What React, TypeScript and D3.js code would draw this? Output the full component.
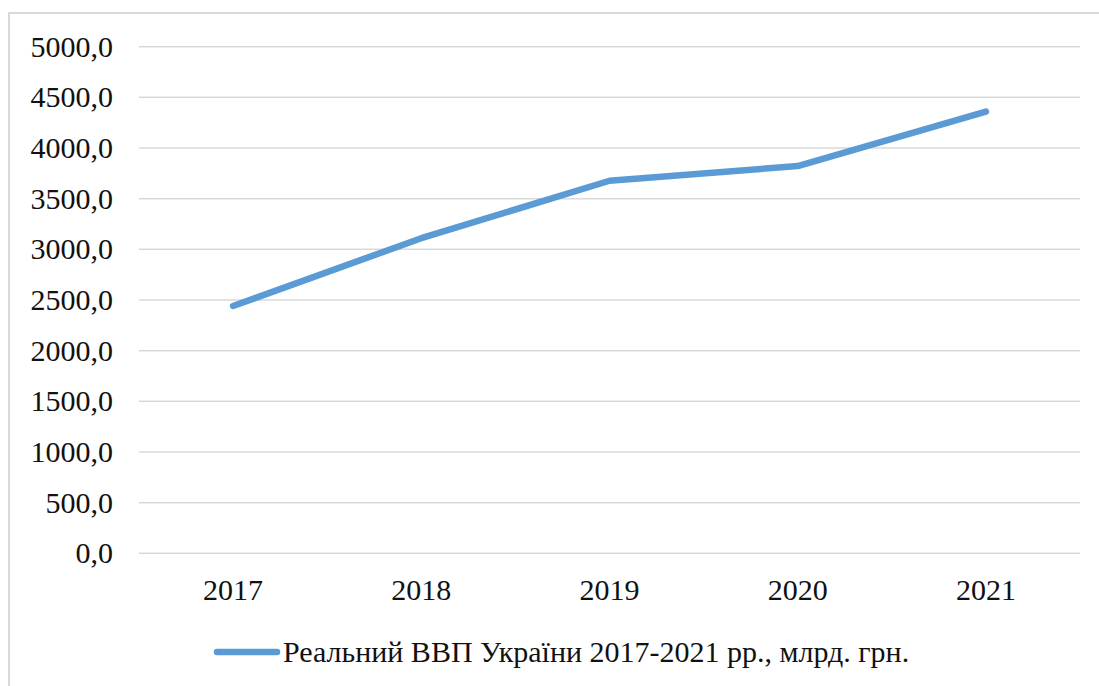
import React from "react";
import * as d3 from "d3";

const categories = ["2017", "2018", "2019", "2020", "2021"];
const values = [2441, 3110, 3677, 3822, 4360];
const yTicks = [0, 500, 1000, 1500, 2000, 2500, 3000, 3500, 4000, 4500, 5000];
const legendLabel = "Реальний ВВП України 2017-2021 рр., млрд. грн.";

const W = 1099;
const H = 686;
const plot = { left: 139, right: 1080, top: 46.7, bottom: 553.3 };
const font = "'Liberation Serif', 'Times New Roman', serif";

export default function App() {
  const x = d3.scaleBand<string>().domain(categories).range([plot.left, plot.right]);
  const y = d3.scaleLinear().domain([0, 5000]).range([plot.bottom, plot.top]);
  const fmt = (v: number) => v.toFixed(1).replace(".", ",");
  const line = d3
    .line<number>()
    .x((_, i) => (x(categories[i]) as number) + x.bandwidth() / 2)
    .y((v) => y(v));

  return (
    <svg
      width={W}
      height={H}
      style={{ position: "absolute", left: 0, top: 0, background: "#fff" }}
    >
      <rect x={9} y={13} width={W + 20} height={H + 20} fill="#fff" stroke="#d9d9d9" strokeWidth={2} />
      {yTicks.map((t) => (
        <g key={t}>
          <line x1={plot.left} x2={plot.right} y1={y(t)} y2={y(t)} stroke="#d9d9d9" strokeWidth={1.5} />
          <text
            x={113}
            y={y(t) + 10}
            textAnchor="end"
            fontFamily={font}
            fontSize={30}
            fill="#111"
          >
            {fmt(t)}
          </text>
        </g>
      ))}
      {categories.map((c) => (
        <text
          key={c}
          x={(x(c) as number) + x.bandwidth() / 2}
          y={600}
          textAnchor="middle"
          fontFamily={font}
          fontSize={30}
          fill="#111"
        >
          {c}
        </text>
      ))}
      <path
        d={line(values) || ""}
        fill="none"
        stroke="#5B9BD5"
        strokeWidth={6.5}
        strokeLinecap="round"
        strokeLinejoin="round"
      />
      <line x1={217} x2={277} y1={652} y2={652} stroke="#5B9BD5" strokeWidth={6.5} strokeLinecap="round" />
      <text x={283} y={662} fontFamily={font} fontSize={30} fill="#111">
        {legendLabel}
      </text>
    </svg>
  );
}
